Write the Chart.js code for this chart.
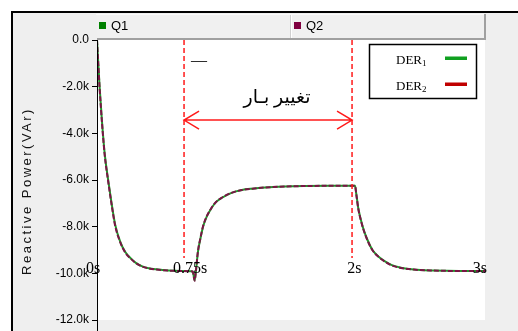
<!DOCTYPE html>
<html>
<head>
<meta charset="utf-8">
<script src="https://cdn.jsdelivr.net/npm/chart.js@4.4.0/dist/chart.umd.min.js"></script>
<style>
  html, body { margin: 0; padding: 0; background: #fff; }
  #wrap { width: 518px; height: 331px; }
</style>
</head>
<body>
<div id="wrap"><canvas id="chart" width="518" height="331"></canvas></div>
<script>
// time (s)
const timeValues = [0, 0.01, 0.02, 0.04, 0.06, 0.085, 0.11, 0.14, 0.18, 0.22, 0.26, 0.3, 0.35, 0.4, 0.46, 0.55, 0.65, 0.74,
  0.755, 0.765, 0.78, 0.8, 0.82, 0.85, 0.88, 0.92, 0.97, 1.04, 1.12, 1.2, 1.3, 1.45, 1.6, 1.8, 1.995,
  2.005, 2.02, 2.04, 2.06, 2.09, 2.13, 2.18, 2.23, 2.28, 2.35, 2.45, 2.6, 2.8, 3.0];
// reactive power (VAr)
const q1Values = [0, -1000, -2000, -3600, -4900, -5950, -6900, -7900, -8650, -9100, -9350, -9550, -9700, -9780, -9830, -9880, -9900, -9920,
  -10300, -9900, -9100, -8500, -8000, -7550, -7250, -6950, -6750, -6550, -6430, -6370, -6320, -6280, -6260, -6250, -6250,
  -6600, -7200, -7700, -8100, -8550, -9000, -9300, -9500, -9650, -9760, -9840, -9880, -9900, -9900];
const q2Values = [0, -1050, -2050, -3650, -4950, -6000, -6950, -7950, -8670, -9120, -9370, -9560, -9710, -9790, -9840, -9880, -9900, -9920,
  -10320, -9880, -9080, -8480, -7980, -7540, -7240, -6940, -6740, -6550, -6430, -6370, -6320, -6280, -6260, -6250, -6250,
  -6620, -7230, -7720, -8120, -8570, -9010, -9310, -9510, -9660, -9770, -9840, -9880, -9900, -9900];
const yTicks = [0, -2000, -4000, -6000, -8000, -10000, -12000];
const seriesNames = ['Q1', 'Q2'];
const timeMarks = ['0s', '0.75s', '2s', '3s'];
const derNames = ['DER', 'DER'];

const toPoints = vals => timeValues.map((t, i) => ({ x: t, y: vals[i] }));

const frame = {
  id: 'frame',
  beforeDraw(chart) {
    const ctx = chart.ctx;
    const a = chart.chartArea;
    ctx.save();
    ctx.fillStyle = '#fff';
    ctx.fillRect(0, 0, 518, 331);
    ctx.fillStyle = '#efefef';
    ctx.fillRect(11, 11, 507, 320);
    ctx.strokeStyle = '#000';
    ctx.lineWidth = 2;
    ctx.beginPath();
    ctx.moveTo(11, 12); ctx.lineTo(518, 12);
    ctx.moveTo(12, 11); ctx.lineTo(12, 331);
    ctx.stroke();
    // plot area
    ctx.fillStyle = '#fff';
    ctx.fillRect(a.left, a.top, a.right - a.left, a.bottom - a.top);
    // header strip
    ctx.fillStyle = '#f0f0f0';
    ctx.fillRect(a.left, 14, a.right - a.left, a.top - 14);
    ctx.fillStyle = '#fafafa';
    ctx.fillRect(a.left - 1, 14, a.right - a.left, 1);
    ctx.fillStyle = '#a0a0a0';
    ctx.fillRect(a.left, a.top - 2, a.right - a.left, 2);
    ctx.fillRect(a.right - 1, 14, 2, a.top - 14);
    ctx.strokeStyle = '#d0d0d0';
    ctx.lineWidth = 1;
    ctx.beginPath();
    ctx.moveTo(290.5, 15); ctx.lineTo(290.5, a.top - 2);
    ctx.stroke();
    ctx.fillStyle = '#fff';
    ctx.fillRect(291, 15, 1, a.top - 17);
    const colors = ['#008000', '#800040'];
    const xs = [99, 294];
    ctx.font = '13px "Liberation Sans", Arial, sans-serif';
    ctx.textBaseline = 'middle';
    seriesNames.forEach((n, i) => {
      ctx.fillStyle = colors[i];
      ctx.fillRect(xs[i], 22, 7, 7);
      ctx.fillStyle = '#000';
      ctx.fillText(n, xs[i] + 12, 26);
    });
    // y axis title
    ctx.translate(27, 191);
    ctx.rotate(-Math.PI / 2);
    ctx.font = '13px "Liberation Sans", Arial, sans-serif';
    ctx.letterSpacing = '2.5px';
    ctx.textAlign = 'center';
    ctx.fillStyle = '#111';
    ctx.fillText('Reactive Power(VAr)', 0, 0);
    ctx.restore();
  },
  afterDatasetsDraw(chart) {
    const ctx = chart.ctx;
    const a = chart.chartArea;
    const xs = chart.scales.x, ys = chart.scales.y;
    ctx.save();
    // y axis line
    ctx.strokeStyle = '#000';
    ctx.lineWidth = 1;
    ctx.beginPath();
    ctx.moveTo(a.left + 0.5, a.top); ctx.lineTo(a.left + 0.5, 331);
    ctx.stroke();
    // dashed markers
    const x1 = xs.getPixelForValue(0.673), x2 = xs.getPixelForValue(1.972);
    ctx.strokeStyle = '#ff1a1a';
    ctx.lineWidth = 1.5;
    ctx.setLineDash([5, 3]);
    ctx.beginPath();
    ctx.moveTo(x1, a.top); ctx.lineTo(x1, 258);
    ctx.moveTo(x2, a.top); ctx.lineTo(x2, 258);
    ctx.stroke();
    ctx.setLineDash([]);
    // double arrow
    const ay = ys.getPixelForValue(-3430);
    ctx.beginPath();
    ctx.moveTo(x1, ay); ctx.lineTo(x2, ay);
    ctx.moveTo(x1 + 15, ay - 9); ctx.lineTo(x1, ay); ctx.lineTo(x1 + 15, ay + 9);
    ctx.moveTo(x2 - 15, ay - 9); ctx.lineTo(x2, ay); ctx.lineTo(x2 - 15, ay + 9);
    ctx.stroke();
    // texts
    ctx.fillStyle = '#000';
    ctx.textBaseline = 'alphabetic';
    ctx.font = '19px "Liberation Serif", "DejaVu Sans", serif';
    ctx.textAlign = 'center';
    ctx.fillText('تغییر بـار', 277, 103);
    ctx.textAlign = 'left';
    ctx.font = '16px "Liberation Serif", serif';
    ctx.fillText('—', 191, 65);
    const tPos = [-0.03, 0.72, 1.99, 2.96];
    ctx.font = '16px "Liberation Serif", "Times New Roman", serif';
    ctx.textAlign = 'center';
    timeMarks.forEach((m, i) => ctx.fillText(m, xs.getPixelForValue(tPos[i]), 273));
    // DER legend box
    ctx.fillStyle = '#fff';
    ctx.fillRect(369, 44, 108, 55);
    ctx.strokeStyle = '#000';
    ctx.lineWidth = 1.5;
    ctx.strokeRect(369.5, 44.5, 107, 54);
    const lc = ['#10a020', '#c00000'];
    const ly = [58, 84];
    derNames.forEach((n, i) => {
      ctx.fillStyle = '#000';
      ctx.textAlign = 'left';
      ctx.font = '13px "Liberation Serif", "Times New Roman", serif';
      ctx.fillText(n, 396, ly[i] + 6);
      const w = ctx.measureText(n).width;
      ctx.font = '9px "Liberation Serif", "Times New Roman", serif';
      ctx.fillText(String(i + 1), 396 + w, ly[i] + 8);
      ctx.fillStyle = lc[i];
      ctx.fillRect(445, ly[i] - 1.5, 22, 3.5);
    });
    ctx.restore();
  }
};

new Chart(document.getElementById('chart'), {
  type: 'line',
  data: {
    datasets: [
      {
        label: seriesNames[0],
        data: toPoints(q1Values),
        borderColor: '#1f9a2a',
        borderWidth: 2,
        pointRadius: 0,
        cubicInterpolationMode: 'monotone',
        order: 2
      },
      {
        label: seriesNames[1],
        data: toPoints(q2Values),
        borderColor: '#7a1545',
        borderWidth: 2,
        borderDash: [5, 2],
        pointRadius: 0,
        cubicInterpolationMode: 'monotone',
        order: 1
      }
    ]
  },
  options: {
    responsive: false,
    animation: false,
    events: [],
    layout: { padding: { top: 40, right: 33, bottom: 11, left: 0 } },
    plugins: { legend: { display: false }, tooltip: { enabled: false } },
    scales: {
      x: { type: 'linear', min: 0, max: 3, display: false },
      y: {
        min: -12000,
        max: 0,
        afterFit: s => { s.width = 97; },
        afterBuildTicks: s => { s.ticks = yTicks.map(v => ({ value: v })); },
        ticks: {
          color: '#000',
          padding: 3,
          font: { family: '"Liberation Sans", Arial, sans-serif', size: 12 },
          callback: v => v === 0 ? '0.0' : (v / 1000).toFixed(1) + 'k'
        },
        grid: { drawOnChartArea: false, tickLength: 5, color: '#000' },
        border: { color: '#000' }
      }
    }
  },
  plugins: [frame]
});
</script>
</body>
</html>
